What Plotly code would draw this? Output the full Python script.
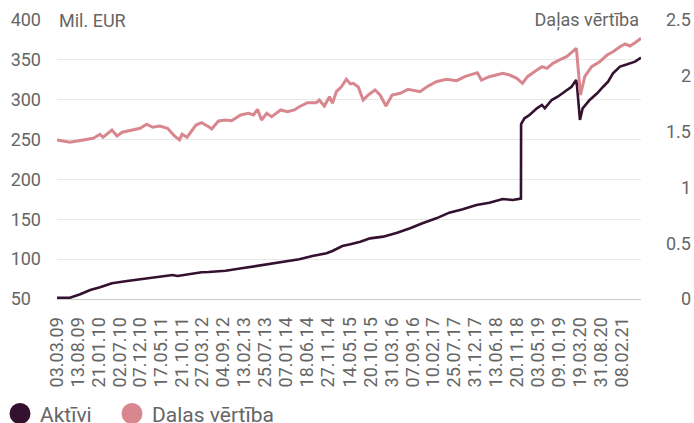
import plotly.graph_objects as go

# ---------------- data ----------------
aktivi_dates = [
    "2009-03-03", "2009-06-11", "2009-08-29", "2009-11-14", "2010-01-29", "2010-05-01",
    "2010-08-26", "2010-12-25", "2011-05-04", "2011-08-11", "2011-09-19", "2011-12-17",
    "2012-03-23", "2012-05-16", "2012-09-24", "2013-01-25", "2013-06-07", "2013-09-14",
    "2013-12-06", "2014-04-15", "2014-07-25", "2014-11-11", "2014-12-27", "2015-03-13",
    "2015-05-14", "2015-07-30", "2015-10-13", "2016-01-23", "2016-05-09", "2016-08-17",
    "2016-11-20", "2017-03-07", "2017-06-15", "2017-09-27", "2018-01-11", "2018-04-20",
    "2018-08-02", "2018-10-17", "2018-12-20", "2018-12-21", "2019-01-16", "2019-02-24",
    "2019-04-22", "2019-05-31", "2019-06-22", "2019-08-14", "2019-09-29", "2019-11-22",
    "2020-01-14", "2020-02-19", "2020-02-26", "2020-03-19", "2020-04-09", "2020-06-02",
    "2020-07-30", "2020-09-14", "2020-10-22", "2020-11-29", "2021-01-22", "2021-03-02",
    "2021-04-09", "2021-05-18", "2021-07-03",
]
aktivi_values = [
    51.6, 51.6, 55.9, 61.3, 64.7, 69.7,
    72.6, 75.5, 78.5, 80.1, 78.9, 81.4,
    83.5, 83.9, 85.5, 88.5, 91.8, 93.9,
    96.8, 99.8, 103.9, 107.3, 110.2, 116.5,
    118.6, 121.9, 126.1, 128.2, 133.2, 138.7,
    145.0, 151.2, 158.3, 162.5, 167.9, 170.8,
    175.5, 174.2, 176.0, 269.5, 276.7, 280.8,
    289.2, 293.4, 289.2, 299.6, 303.8, 310.1,
    316.3, 324.7, 316.3, 274.6, 289.2, 299.6,
    308.1, 316.3, 322.6, 333.1, 341.5, 343.6,
    345.8, 347.8, 352.7,
]

dalas_dates = [
    "2009-03-03", "2009-06-11", "2009-09-21", "2009-12-07", "2010-01-29", "2010-02-21",
    "2010-05-01", "2010-06-09", "2010-07-19", "2010-09-18", "2010-12-04", "2011-01-24",
    "2011-03-11", "2011-05-04", "2011-07-04", "2011-08-26", "2011-10-04", "2011-10-24",
    "2011-12-01", "2012-02-08", "2012-03-23", "2012-05-16", "2012-06-08", "2012-07-31",
    "2012-09-24", "2012-11-09", "2013-01-17", "2013-03-20", "2013-04-27", "2013-05-28",
    "2013-06-28", "2013-08-07", "2013-09-14", "2013-11-22", "2014-01-13", "2014-03-08",
    "2014-04-15", "2014-06-17", "2014-08-24", "2014-09-16", "2014-10-25", "2014-12-04",
    "2014-12-27", "2015-01-26", "2015-03-06", "2015-04-13", "2015-05-14", "2015-06-06",
    "2015-07-14", "2015-08-21", "2015-09-29", "2015-11-20", "2015-12-29", "2016-02-13",
    "2016-03-31", "2016-06-01", "2016-08-01", "2016-11-01", "2016-12-25", "2017-03-07",
    "2017-05-23", "2017-08-12", "2017-10-12", "2018-01-18", "2018-02-18", "2018-04-20",
    "2018-08-02", "2018-09-24", "2018-11-18", "2019-01-01", "2019-02-08", "2019-04-03",
    "2019-05-31", "2019-07-08", "2019-08-23", "2019-10-14", "2019-12-07", "2020-01-22",
    "2020-02-19", "2020-02-24", "2020-03-23", "2020-04-25", "2020-06-17", "2020-08-18",
    "2020-10-14", "2020-11-29", "2021-01-22", "2021-03-02", "2021-04-09", "2021-05-18",
    "2021-07-03",
]
dalas_values = [
    1.425, 1.404, 1.425, 1.440, 1.476, 1.449,
    1.514, 1.461, 1.494, 1.508, 1.530, 1.566,
    1.539, 1.550, 1.530, 1.461, 1.425, 1.476,
    1.449, 1.559, 1.580, 1.544, 1.523, 1.595,
    1.604, 1.598, 1.649, 1.664, 1.649, 1.700,
    1.604, 1.664, 1.634, 1.694, 1.678, 1.694,
    1.723, 1.759, 1.759, 1.783, 1.729, 1.813,
    1.754, 1.858, 1.902, 1.969, 1.927, 1.933,
    1.900, 1.783, 1.828, 1.873, 1.828, 1.729,
    1.828, 1.843, 1.879, 1.858, 1.902, 1.947,
    1.969, 1.956, 1.992, 2.028, 1.962, 1.992,
    2.022, 2.007, 1.978, 1.933, 1.992, 2.037,
    2.082, 2.067, 2.112, 2.142, 2.171, 2.216,
    2.247, 2.202, 1.828, 1.992, 2.082, 2.126,
    2.186, 2.216, 2.261, 2.285, 2.267, 2.297,
    2.336,
]

tick_dates = [
    "2009-03-03", "2009-08-13", "2010-01-21", "2010-07-02", "2010-12-07", "2011-05-17",
    "2011-10-21", "2012-03-27", "2012-09-04", "2013-02-13", "2013-07-25", "2014-01-07",
    "2014-06-18", "2014-11-27", "2015-05-14", "2015-10-20", "2016-03-31", "2016-09-07",
    "2017-02-10", "2017-07-25", "2017-12-31", "2018-06-13", "2018-11-20", "2019-05-03",
    "2019-10-09", "2020-03-19", "2020-08-31", "2021-02-08",
]
tick_labels = [
    "03.03.09", "13.08.09", "21.01.10", "02.07.10", "07.12.10", "17.05.11",
    "21.10.11", "27.03.12", "04.09.12", "13.02.13", "25.07.13", "07.01.14",
    "18.06.14", "27.11.14", "14.05.15", "20.10.15", "31.03.16", "07.09.16",
    "10.02.17", "25.07.17", "31.12.17", "13.06.18", "20.11.18", "03.05.19",
    "09.10.19", "19.03.20", "31.08.20", "08.02.21",
]

left_ticks = [50, 100, 150, 200, 250, 300, 350, 400]
left_tick_labels = ["50\u2007", "100", "150", "200", "250", "300", "350", "400"]
right_ticks = [0, 0.5, 1, 1.5, 2, 2.5]
right_tick_labels = ["\u2008\u20070", "0.5", "\u2008\u20071", "1.5", "\u2008\u20072", "2.5"]

series_names = ["Aktīvi", "Daļas vērtība"]
left_title = "Mil. EUR"
right_title = "Daļas vērtība"

# ---------------- style ----------------
DARK = "#33112f"
PINK = "#d8878f"
FONT = "Roboto, 'Open Sans', sans-serif"
TXT = "#666666"

fig = go.Figure()
fig.add_trace(go.Scatter(x=aktivi_dates, y=aktivi_values, mode="lines", name=series_names[0],
                         line=dict(color=DARK, width=2.6), showlegend=False, yaxis="y"))
fig.add_trace(go.Scatter(x=dalas_dates, y=dalas_values, mode="lines", name=series_names[1],
                         line=dict(color=PINK, width=3), showlegend=False, yaxis="y2"))
# legend entries (circle symbols)
fig.add_trace(go.Scatter(x=[None], y=[None], mode="markers", name=series_names[0],
                         marker=dict(size=16, color=DARK, line=dict(color=DARK, width=5)),
                         legend="legend"))
fig.add_trace(go.Scatter(x=[None], y=[None], mode="markers", name=series_names[1],
                         marker=dict(size=16, color=PINK, line=dict(color=PINK, width=5)),
                         legend="legend2"))

legend_style = dict(orientation="h", xanchor="left", y=-0.338, yanchor="top",
                    font=dict(family=FONT, size=21, color="#666666"),
                    bgcolor="rgba(0,0,0,0)", itemsizing="trace")

fig.update_layout(
    width=694, height=423,
    margin=dict(l=57, r=53, t=20, b=124, autoexpand=False),
    paper_bgcolor="white", plot_bgcolor="white",
    font=dict(family=FONT, size=18, color=TXT),
    xaxis=dict(type="date", tickmode="array", tickvals=tick_dates, ticktext=tick_labels,
               tickangle=-90, showgrid=False, zeroline=False, ticks="",
               showline=True, linecolor="#cccccc", linewidth=1,
               tickfont=dict(family=FONT, size=18, color=TXT), ticklabelstandoff=10),
    yaxis=dict(range=[50, 400], tickmode="array", tickvals=left_ticks, ticktext=left_tick_labels,
               showgrid=True, gridcolor="#e9e9e9", gridwidth=1, zeroline=False, ticks="",
               tickfont=dict(family=FONT, size=18, color=TXT), ticklabelstandoff=15),
    yaxis2=dict(range=[0, 2.5], overlaying="y", side="right", tickmode="array",
                tickvals=right_ticks, ticktext=right_tick_labels, showgrid=False,
                zeroline=False, ticks="", showline=False,
                tickfont=dict(family=FONT, size=18, color=TXT), ticklabelstandoff=24),
    legend=dict(x=-0.0976, **legend_style),
    legend2=dict(x=0.0942, **legend_style),
    annotations=[
        dict(text=left_title, xref="paper", yref="paper", x=0, y=1, xanchor="left",
             yanchor="middle", showarrow=False, align="left", width=95, bgcolor="white",
             font=dict(family=FONT, size=18, color=TXT)),
        dict(text=right_title, xref="paper", yref="paper", x=1, y=1, xanchor="right",
             yanchor="middle", showarrow=False, align="right", width=130, bgcolor="white",
             font=dict(family=FONT, size=18, color=TXT)),
    ],
)

fig.write_html("out.html", config={"displayModeBar": False},
               post_script="document.body.style.margin='0';")
